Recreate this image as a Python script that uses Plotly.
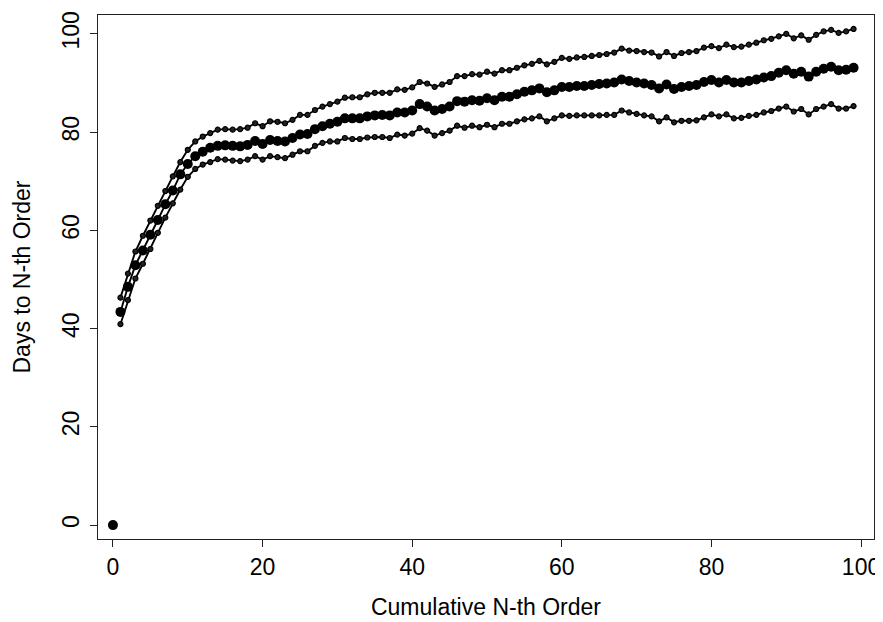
import plotly.graph_objects as go

orders = list(range(1, 100))
mean_days = [43.4, 48.5, 52.9, 55.9, 59.1, 62.1, 65.3, 68.1, 71.4, 73.5,
             75.1, 76.0, 76.8, 77.2, 77.3, 77.2, 77.1, 77.4, 78.2, 77.6,
             78.4, 78.2, 78.1, 78.8, 79.5, 79.6, 80.6, 81.2, 81.7, 82.1,
             82.8, 82.8, 82.8, 83.2, 83.4, 83.5, 83.4, 84.0, 84.0, 84.4,
             85.7, 85.2, 84.4, 84.7, 85.2, 86.3, 86.2, 86.5, 86.4, 86.9,
             86.5, 87.2, 87.2, 87.7, 88.2, 88.5, 88.9, 88.1, 88.5, 89.2,
             89.2, 89.4, 89.4, 89.6, 89.8, 89.9, 90.1, 90.7, 90.4, 90.1,
             89.9, 89.6, 88.9, 89.7, 88.8, 89.2, 89.4, 89.6, 90.2, 90.6,
             90.1, 90.6, 90.1, 90.1, 90.4, 90.7, 91.1, 91.4, 92.1, 92.6,
             91.9, 92.3, 91.3, 92.3, 92.9, 93.3, 92.6, 92.7, 93.1]
upper_days = [46.3, 51.2, 55.7, 58.9, 62.0, 65.0, 68.0, 71.0, 73.9, 76.4,
              78.1, 79.1, 79.8, 80.5, 80.6, 80.5, 80.6, 80.9, 81.8, 81.2,
              82.2, 82.1, 81.8, 82.5, 83.5, 83.5, 84.5, 85.2, 85.7, 86.2,
              87.0, 87.1, 87.1, 87.7, 88.0, 88.0, 88.0, 88.7, 88.6, 89.1,
              90.2, 89.9, 89.2, 89.7, 90.2, 91.4, 91.4, 91.8, 91.7, 92.3,
              91.9, 92.6, 92.6, 93.1, 93.6, 93.9, 94.5, 93.8, 94.3, 95.1,
              94.9, 95.2, 95.3, 95.5, 95.7, 95.9, 96.2, 97.0, 96.6, 96.5,
              96.3, 96.2, 95.4, 96.3, 95.5, 96.1, 96.3, 96.5, 97.2, 97.5,
              97.1, 97.8, 97.3, 97.4, 97.8, 98.2, 98.7, 99.0, 99.5, 100.0,
              99.1, 99.7, 98.8, 99.8, 100.5, 100.8, 100.2, 100.5, 101.0]
lower_days = [40.9, 45.8, 50.2, 53.2, 56.2, 59.5, 62.6, 65.5, 68.3, 70.9,
              72.5, 73.4, 73.9, 74.5, 74.4, 74.2, 74.1, 74.4, 75.1, 74.4,
              75.1, 74.9, 74.7, 75.4, 76.1, 76.1, 77.2, 77.8, 78.1, 78.1,
              78.8, 78.6, 78.6, 78.9, 79.0, 79.0, 78.8, 79.5, 79.3, 79.7,
              80.8, 80.3, 79.3, 79.8, 80.3, 81.3, 80.9, 81.3, 81.0, 81.5,
              81.0, 81.7, 81.7, 82.2, 82.6, 82.8, 83.2, 82.2, 82.8, 83.4,
              83.3, 83.4, 83.4, 83.4, 83.4, 83.5, 83.5, 84.4, 84.0, 83.7,
              83.4, 83.2, 82.2, 83.0, 82.0, 82.3, 82.3, 82.4, 83.0, 83.6,
              83.2, 83.6, 82.8, 82.9, 83.3, 83.5, 84.0, 84.3, 84.8, 85.2,
              84.2, 84.7, 83.6, 84.7, 85.2, 85.7, 84.8, 84.8, 85.3]
origin_x = [0]
origin_y = [0]
tick_vals = [0, 20, 40, 60, 80, 100]

FONT = "Liberation Sans, Arial, sans-serif"
FS = 23

fig = go.Figure()
for ys in (upper_days, lower_days):
    fig.add_trace(go.Scatter(
        x=orders, y=ys, mode="lines+markers",
        line=dict(color="black", width=1.9),
        marker=dict(symbol="circle", size=5, color="#222",
                    line=dict(width=1.2, color="black")),
        showlegend=False))
fig.add_trace(go.Scatter(
    x=orders, y=mean_days, mode="lines+markers",
    line=dict(color="black", width=1.9),
    marker=dict(symbol="circle", size=10, color="black"),
    showlegend=False))
fig.add_trace(go.Scatter(
    x=origin_x, y=origin_y, mode="markers",
    marker=dict(symbol="circle", size=10, color="black"),
    showlegend=False))

axis_common = dict(
    showline=True, mirror=True, linecolor="#222", linewidth=1.3,
    ticks="outside", ticklen=7, tickwidth=1.3, tickcolor="#222",
    showgrid=False, zeroline=False, tickvals=tick_vals,
    tickfont=dict(family=FONT, size=FS, color="black"),
)

# the page body adds an 8px offset, so the figure is sized to fit
fig.update_layout(
    width=875, height=614,
    margin=dict(l=90, r=7, t=3, b=83),
    paper_bgcolor="white", plot_bgcolor="white",
    font=dict(family=FONT, size=FS, color="black"),
    xaxis=dict(range=[-2, 101.73],
               title=dict(text="Cumulative N-th Order", standoff=20,
                          font=dict(family=FONT, size=FS)),
               **axis_common),
    yaxis=dict(range=[-2.83, 103.84], tickangle=-90,
               title=dict(text="Days to N-th Order", standoff=20,
                          font=dict(family=FONT, size=FS)),
               ticklabelstandoff=2,
               **axis_common),
)

fig.write_html("out.html")
